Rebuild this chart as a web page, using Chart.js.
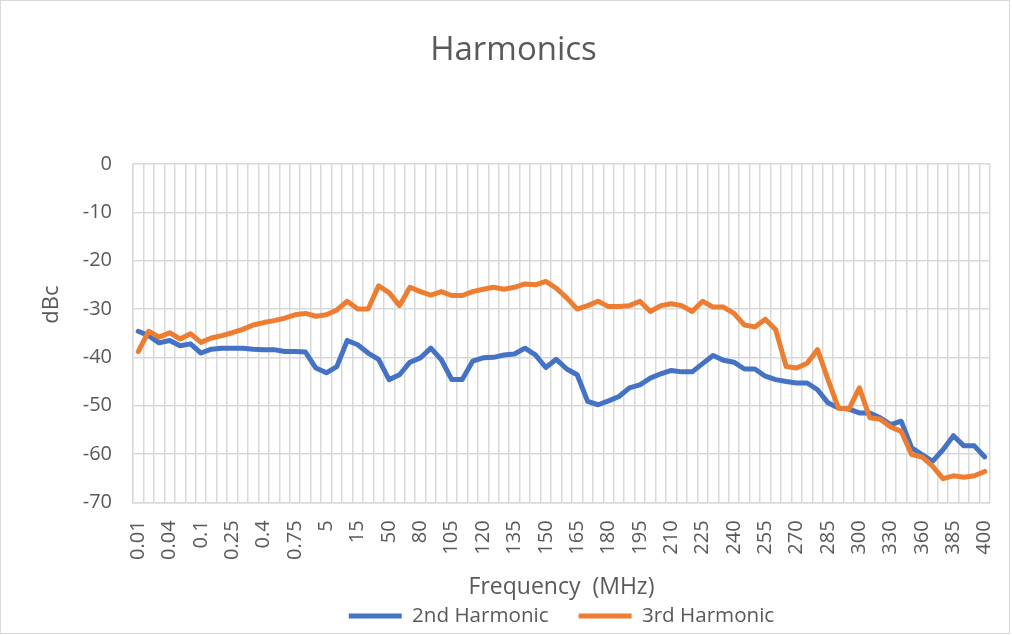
<!DOCTYPE html>
<html>
<head>
<meta charset="utf-8">
<script src="https://cdn.jsdelivr.net/npm/chart.js@4/dist/chart.umd.min.js"></script>
<style>
html,body{margin:0;padding:0;background:#fff;}
#wrap{width:1012px;height:635px;}
</style>
</head>
<body>
<div id="wrap"><canvas id="c" width="1012" height="635"></canvas></div>
<script>
// ---- data ----
const frequencies = ['0.01','0.02','0.03','0.04','0.05','0.075','0.1','0.15','0.2','0.25','0.3','0.35','0.4','0.5','0.6','0.75','1','2.5','5','7.5','10','15','20','30','50','60','70','80','90','100','105','110','115','120','125','130','135','140','145','150','155','160','165','170','175','180','185','190','195','200','205','210','215','220','225','230','235','240','245','250','255','260','265','270','275','280','285','290','295','300','310','320','330','340','350','360','370','380','385','390','395','400'];
const secondHarmonic = [-34.6,-35.5,-37.0,-36.5,-37.6,-37.2,-39.1,-38.3,-38.1,-38.1,
  -38.1,-38.3,-38.4,-38.4,-38.8,-38.8,-38.9,-42.2,-43.2,-41.9,
  -36.5,-37.4,-39.1,-40.4,-44.6,-43.6,-41.0,-40.1,-38.1,-40.5,
  -44.6,-44.6,-40.8,-40.1,-40.0,-39.5,-39.3,-38.1,-39.5,-42.1,
  -40.4,-42.4,-43.6,-49.1,-49.8,-49.0,-48.1,-46.3,-45.7,-44.3,
  -43.4,-42.7,-43.0,-43.0,-41.3,-39.6,-40.6,-41.0,-42.4,-42.4,
  -43.9,-44.6,-45.0,-45.3,-45.3,-46.7,-49.4,-50.5,-50.7,-51.5,
  -51.5,-52.5,-53.9,-53.2,-58.7,-60.1,-61.5,-59.1,-56.2,-58.3,
  -58.3,-60.6];
const thirdHarmonic = [-38.8,-34.6,-35.8,-34.9,-36.2,-35.1,-36.9,-36.0,-35.5,-34.9,
  -34.2,-33.3,-32.8,-32.4,-31.9,-31.2,-30.9,-31.5,-31.2,-30.2,
  -28.4,-30.0,-30.0,-25.2,-26.6,-29.3,-25.5,-26.4,-27.1,-26.4,
  -27.2,-27.2,-26.4,-25.9,-25.5,-25.9,-25.5,-24.8,-25.0,-24.3,
  -25.7,-27.7,-30.0,-29.3,-28.4,-29.5,-29.5,-29.3,-28.4,-30.5,
  -29.3,-28.9,-29.3,-30.5,-28.4,-29.6,-29.6,-30.9,-33.3,-33.7,
  -32.1,-34.3,-41.9,-42.2,-41.2,-38.4,-44.6,-50.5,-50.7,-46.3,
  -52.5,-52.8,-54.4,-55.3,-60.1,-60.6,-62.5,-65.1,-64.5,-64.8,
  -64.5,-63.6];
const seriesNames = ['2nd Harmonic','3rd Harmonic'];
const yMin = -70, yMax = 0, yStep = 10;
const labelEvery = 3;

// ---- style ----
const FONT = "'Open Sans', 'DejaVu Sans', sans-serif";
const TEXT = '#595959';
const GRID = '#d9d9d9';
const BLUE = '#4472C4';
const ORANGE = '#ED7D31';
const LEG_FONT = 20.6, LEG_PAD = 30, LEG_Y = 616;

const framePlugin = {
  id: 'frame',
  beforeDraw(chart) {
    const {ctx, width, height} = chart;
    ctx.save();
    ctx.fillStyle = '#fff';
    ctx.fillRect(0, 0, width, height);
    ctx.strokeStyle = GRID;
    ctx.lineWidth = 1;
    ctx.strokeRect(0.5, 0.5, width - 3, height - 2);
    ctx.restore();
  }
};
const placeBlocks = {
  id: 'placeBlocks',
  afterLayout(chart) {
    const lg = chart.legend, ca = chart.chartArea, tb = chart.titleBlock;
    if (lg) {
      const h = lg.height;
      lg.left = ca.left; lg.right = ca.right; lg.width = ca.right - ca.left;
      lg.top = LEG_Y - LEG_PAD - LEG_FONT / 2; lg.bottom = lg.top + h;
    }
    if (tb) {
      tb.left = 36; tb.right = 991; tb.width = tb.right - tb.left;
    }
  }
};

new Chart(document.getElementById('c'), {
  type: 'line',
  data: {
    labels: frequencies,
    datasets: [
      {label: seriesNames[0], data: secondHarmonic, borderColor: BLUE, backgroundColor: BLUE, order: 1},
      {label: seriesNames[1], data: thirdHarmonic, borderColor: ORANGE, backgroundColor: ORANGE, order: 0}
    ]
  },
  options: {
    responsive: false,
    animation: false,
    devicePixelRatio: 1,
    layout: {padding: {left: 0, right: 22, top: 0, bottom: 0}},
    elements: {
      line: {borderWidth: 5, tension: 0, borderJoinStyle: 'round', borderCapStyle: 'round'},
      point: {radius: 0, hoverRadius: 0}
    },
    plugins: {
      title: {
        display: true, text: 'Harmonics', color: TEXT,
        font: {family: FONT, size: 33, weight: 'normal', lineHeight: 1.2},
        padding: {top: 31, bottom: 93.4}
      },
      legend: {
        display: true, position: 'bottom',
        labels: {
          color: TEXT, font: {family: FONT, size: LEG_FONT}, padding: LEG_PAD,
          usePointStyle: true, pointStyle: 'line', pointStyleWidth: 53,
          sort: (a, b) => a.datasetIndex - b.datasetIndex,
          generateLabels: (chart) => Chart.defaults.plugins.legend.labels.generateLabels(chart)
            .map(l => Object.assign(l, {lineWidth: 5, pointStyle: 'line', strokeStyle: l.datasetIndex === 0 ? BLUE : ORANGE, fillStyle: l.datasetIndex === 0 ? BLUE : ORANGE}))
        }
      },
      tooltip: {enabled: false}
    },
    scales: {
      x: {
        type: 'category',
        offset: true,
        grid: {offset: true, color: GRID, lineWidth: 1.5, drawTicks: false},
        border: {display: true, color: GRID, width: 1.5},
        ticks: {
          autoSkip: false, minRotation: 90, maxRotation: 90, padding: 18,
          color: TEXT, font: {family: FONT, size: 20},
          callback: function(value, index) { return index % labelEvery === 0 ? frequencies[index] : ''; }
        },
        title: {
          display: true, text: 'Frequency  (MHz)', color: TEXT,
          font: {family: FONT, size: 23, lineHeight: 1.2},
          padding: {top: 0, bottom: -26.8}
        },
        afterFit: (scale) => { scale.height = 72; scale.paddingLeft = 0; scale.paddingRight = 0; }
      },
      y: {
        min: yMin, max: yMax,
        grid: {color: GRID, lineWidth: 1.5, drawTicks: false},
        border: {display: true, color: GRID, width: 1.5},
        ticks: {stepSize: yStep, padding: 21, color: TEXT, font: {family: FONT, size: 20}},
        title: {
          display: true, text: '          dBc', color: TEXT,
          font: {family: FONT, size: 22, lineHeight: 1.2},
          padding: {top: 39, bottom: 0}
        },
        afterFit: (scale) => { scale.width = 133; }
      }
    }
  },
  plugins: [framePlugin, placeBlocks]
});
</script>
</body>
</html>
